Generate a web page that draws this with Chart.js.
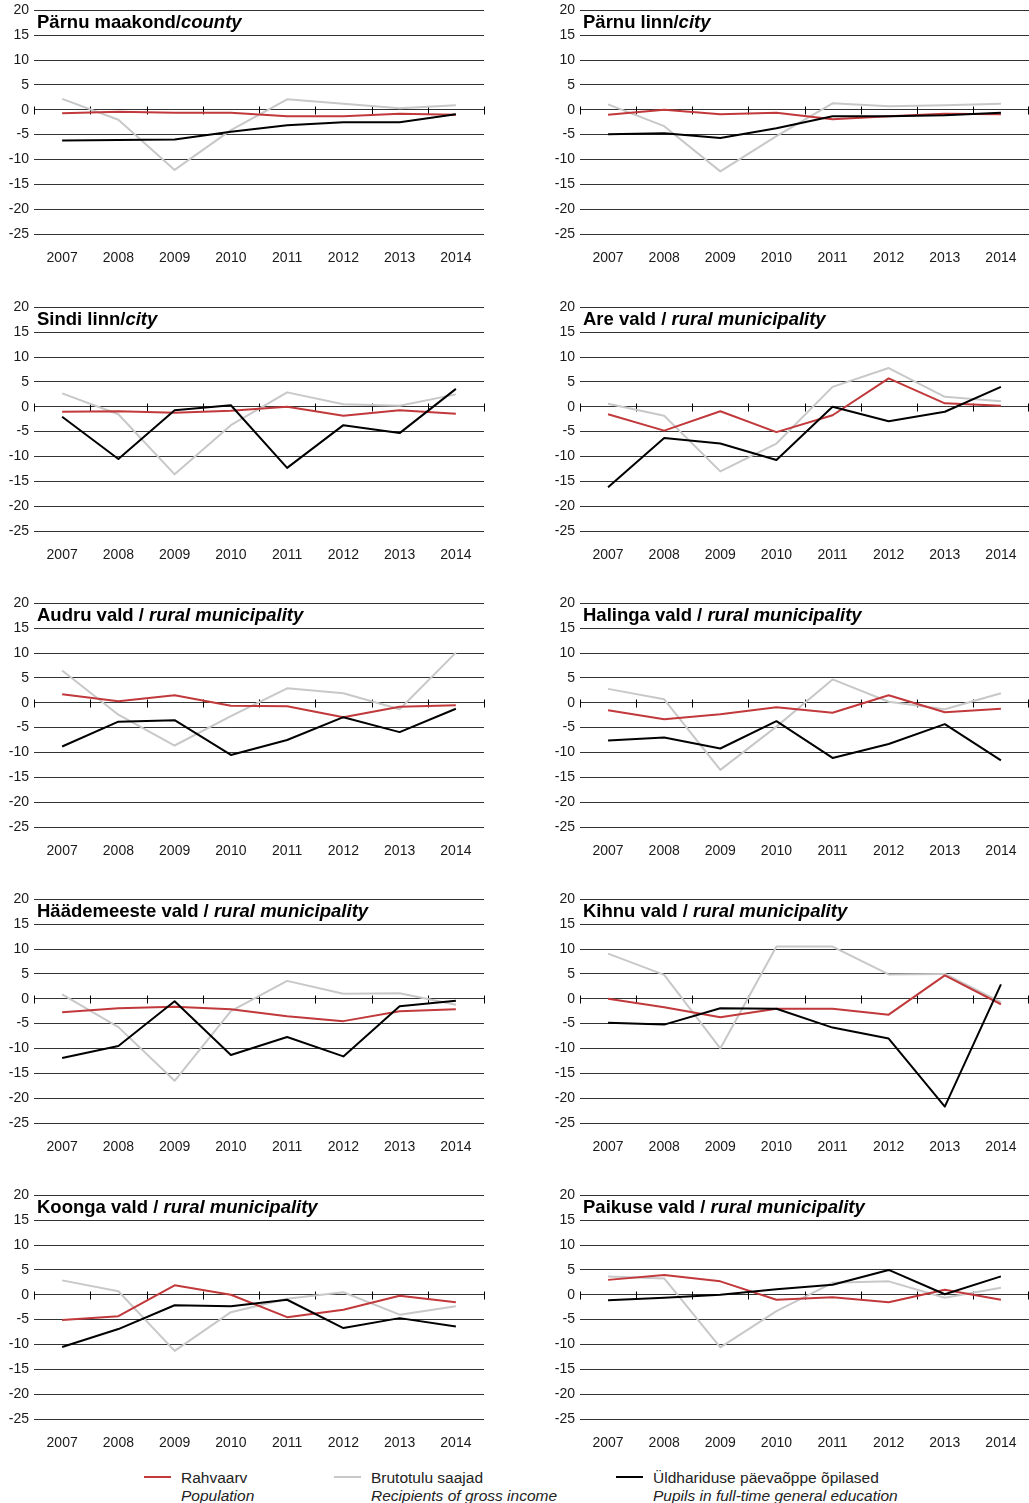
<!DOCTYPE html>
<html><head><meta charset="utf-8">
<script src="https://cdn.jsdelivr.net/npm/chart.js@4/dist/chart.umd.min.js"></script>
<style>
html,body{margin:0;padding:0;background:#fff;}
body{width:1029px;height:1503px;position:relative;overflow:hidden;font-family:"Liberation Sans",Arial,sans-serif;}
.panel{position:absolute;}
.panel canvas{display:block;}
.ttl{position:absolute;font-weight:bold;font-size:18.5px;line-height:20px;color:#000;white-space:nowrap;}
.ttl i{font-style:italic;}
.leg{position:absolute;top:1468.5px;font-size:15.5px;line-height:18px;color:#222;white-space:nowrap;}
.leg i{display:block;}
.mk{position:absolute;height:2px;width:27px;top:1476px;}
</style></head><body>
<div id="root"></div>
<div class="mk" style="left:144px;background:#c1393b"></div>
<div class="leg" style="left:181px">Rahvaarv<i>Population</i></div>
<div class="mk" style="left:334px;background:#c8c8c8"></div>
<div class="leg" style="left:371px">Brutotulu saajad<i>Recipients of gross income</i></div>
<div class="mk" style="left:616px;background:#000"></div>
<div class="leg" style="left:653px">Üldhariduse päevaõppe õpilased<i>Pupils in full-time general education</i></div>
<script>
// ---- categories ----
const years = ['2007','2008','2009','2010','2011','2012','2013','2014'];
const yTickValues = [20, 15, 10, 5, 0, -5, -10, -15, -20, -25];

// ---- series names ----
const seriesPopulation = 'Rahvaarv / Population';
const seriesIncome = 'Brutotulu saajad / Recipients of gross income';
const seriesPupils = 'Üldhariduse päevaõppe õpilased / Pupils in full-time general education';

// ---- Pärnu maakond ----
const popParnuMaakond = [-0.7, -0.4, -0.6, -0.6, -1.3, -1.3, -0.8, -1.0];
const incParnuMaakond = [2.2, -2.0, -12.1, -4.1, 2.1, 1.2, 0.3, 0.9];
const pupParnuMaakond = [-6.2, -6.1, -6.0, -4.4, -3.1, -2.5, -2.5, -0.9];
// ---- Pärnu linn ----
const popParnuLinn = [-1.0, 0.0, -0.9, -0.6, -1.9, -1.3, -0.8, -0.9];
const incParnuLinn = [1.1, -3.3, -12.4, -5.3, 1.3, 0.7, 0.9, 1.2];
const pupParnuLinn = [-4.9, -4.7, -5.7, -3.7, -1.3, -1.3, -1.1, -0.6];
// ---- Sindi linn ----
const popSindi = [-1.0, -0.9, -1.2, -0.8, 0.0, -1.8, -0.7, -1.4];
const incSindi = [2.7, -1.5, -13.6, -3.7, 2.9, 0.5, 0.2, 2.5];
const pupSindi = [-2.0, -10.5, -0.7, 0.3, -12.3, -3.7, -5.3, 3.6];
// ---- Are vald ----
const popAre = [-1.5, -4.8, -0.9, -5.1, -1.7, 5.7, 0.7, 0.2];
const incAre = [0.6, -1.8, -13.0, -7.4, 4.0, 7.8, 2.0, 1.1];
const pupAre = [-16.2, -6.3, -7.4, -10.7, 0.0, -2.9, -1.0, 4.0];
// ---- Audru vald ----
const popAudru = [1.7, 0.3, 1.5, -0.6, -0.7, -2.9, -0.8, -0.5];
const incAudru = [6.5, -2.4, -8.6, -2.7, 2.9, 1.9, -1.3, 10.1];
const pupAudru = [-8.8, -3.8, -3.5, -10.5, -7.5, -2.9, -5.9, -1.2];
// ---- Halinga vald ----
const popHalinga = [-1.5, -3.3, -2.3, -0.9, -2.0, 1.5, -1.9, -1.2];
const incHalinga = [2.8, 0.7, -13.5, -4.8, 4.7, 0.2, -1.3, 1.9];
const pupHalinga = [-7.6, -7.0, -9.2, -3.7, -11.1, -8.3, -4.3, -11.6];
// ---- Häädemeeste vald ----
const popHaademeeste = [-2.7, -1.9, -1.6, -2.1, -3.5, -4.5, -2.5, -2.1];
const incHaademeeste = [0.9, -5.7, -16.5, -2.5, 3.6, 1.0, 1.1, -1.2];
const pupHaademeeste = [-11.9, -9.5, -0.5, -11.3, -7.7, -11.6, -1.5, -0.4];
// ---- Kihnu vald ----
const popKihnu = [0.0, -1.7, -3.7, -2.0, -2.0, -3.2, 4.7, -1.1];
const incKihnu = [9.1, 4.8, -10.0, 10.5, 10.5, 4.9, 5.0, -0.7];
const pupKihnu = [-4.8, -5.2, -1.9, -2.0, -5.8, -8.0, -21.7, 2.9];
// ---- Koonga vald ----
const popKoonga = [-5.1, -4.3, 1.9, 0.0, -4.5, -3.0, -0.2, -1.5];
const incKoonga = [2.9, 0.7, -11.3, -3.5, -0.8, 0.5, -4.0, -2.3];
const pupKoonga = [-10.5, -6.9, -2.1, -2.3, -1.0, -6.7, -4.7, -6.4];
// ---- Paikuse vald ----
const popPaikuse = [3.0, 4.0, 2.7, -1.0, -0.5, -1.5, 1.0, -1.0];
const incPaikuse = [3.7, 3.3, -10.6, -3.3, 2.4, 2.7, -0.6, 1.4];
const pupPaikuse = [-1.1, -0.6, 0.0, 1.1, 2.0, 5.0, 0.1, 3.7];

// ---- panel titles ----
const titleMain = ['Pärnu maakond/', 'Pärnu linn/', 'Sindi linn/', 'Are vald / ', 'Audru vald / ',
  'Halinga vald / ', 'Häädemeeste vald / ', 'Kihnu vald / ', 'Koonga vald / ', 'Paikuse vald / '];
const titleItalic = ['county', 'city', 'city', 'rural municipality', 'rural municipality',
  'rural municipality', 'rural municipality', 'rural municipality', 'rural municipality', 'rural municipality'];

const popSeries = [popParnuMaakond, popParnuLinn, popSindi, popAre, popAudru, popHalinga, popHaademeeste, popKihnu, popKoonga, popPaikuse];
const incSeries = [incParnuMaakond, incParnuLinn, incSindi, incAre, incAudru, incHalinga, incHaademeeste, incKihnu, incKoonga, incPaikuse];
const pupSeries = [pupParnuMaakond, pupParnuLinn, pupSindi, pupAre, pupAudru, pupHalinga, pupHaademeeste, pupKihnu, pupKoonga, pupPaikuse];

// ---- layout ----
const rowTops = [9, 306, 602, 898, 1194];
const cols = [{x: 0, w: 490, axisW: 34, padR: 6}, {x: 540, w: 489, axisW: 40, padR: 0}];
const PAD_TOP = 12, CANVAS_H = 277;
const RED = '#c1393b', GRAY = '#c8c8c8', BLACK = '#000000';
const TICK_COLOR = '#1a1a1a';

const zeroTicks = {
  id: 'zeroTicks',
  beforeDatasetsDraw(chart) {
    const xs = chart.scales.x, ys = chart.scales.y, ctx = chart.ctx;
    const y0 = Math.round(ys.getPixelForValue(0)) + 0.5;
    ctx.save();
    ctx.strokeStyle = '#000';
    ctx.lineWidth = 1;
    ctx.beginPath();
    for (let i = 0; i <= years.length; i++) {
      let px = Math.round(xs.getPixelForValue(i - 0.5)) + 0.5;
      px = Math.min(px, chart.width - 0.5);
      ctx.moveTo(px, y0 - 4);
      ctx.lineTo(px, y0 + 4);
    }
    ctx.stroke();
    ctx.restore();
  }
};

const root = document.getElementById('root');
for (let p = 0; p < 10; p++) {
  const col = cols[p % 2];
  const rowTop = rowTops[Math.floor(p / 2)];
  const div = document.createElement('div');
  div.className = 'panel';
  div.style.left = col.x + 'px';
  div.style.top = (rowTop - PAD_TOP) + 'px';
  div.style.width = col.w + 'px';
  div.style.height = CANVAS_H + 'px';
  const cv = document.createElement('canvas');
  cv.width = col.w; cv.height = CANVAS_H;
  cv.style.width = col.w + 'px'; cv.style.height = CANVAS_H + 'px';
  div.appendChild(cv);
  const t = document.createElement('div');
  t.className = 'ttl';
  t.style.left = (col.axisW + 3) + 'px';
  t.style.top = (PAD_TOP + 2.6) + 'px';
  t.innerHTML = titleMain[p] + '<i>' + titleItalic[p] + '</i>';
  div.appendChild(t);
  root.appendChild(div);

  new Chart(cv.getContext('2d'), {
    type: 'line',
    data: {
      labels: years,
      datasets: [
        {label: seriesIncome, data: incSeries[p], borderColor: GRAY, order: 3},
        {label: seriesPopulation, data: popSeries[p], borderColor: RED, order: 2},
        {label: seriesPupils, data: pupSeries[p], borderColor: BLACK, order: 1}
      ].map(d => Object.assign(d, {borderWidth: 2, pointRadius: 0, tension: 0, fill: false, borderJoinStyle: 'round'}))
    },
    options: {
      responsive: false,
      animation: false,
      devicePixelRatio: 1,
      layout: {padding: {top: PAD_TOP, right: col.padR, bottom: 0, left: 0}},
      plugins: {legend: {display: false}, tooltip: {enabled: false}, title: {display: false}},
      scales: {
        x: {
          offset: true,
          grid: {display: false, drawTicks: false},
          border: {display: false},
          ticks: {padding: 16, color: TICK_COLOR, font: {family: '"Liberation Sans", Arial, sans-serif', size: 14}, autoSkip: false, maxRotation: 0},
          afterFit(s) { s.height = 40; s.paddingLeft = 0; s.paddingRight = 0; }
        },
        y: {
          min: -25, max: 20,
          afterBuildTicks(s) { s.ticks = yTickValues.map(v => ({value: v})); },
          grid: {color: '#333333', lineWidth: 1, drawTicks: false},
          border: {display: false},
          ticks: {padding: 5, color: TICK_COLOR, font: {family: '"Liberation Sans", Arial, sans-serif', size: 14}, callback: v => String(v)},
          afterFit(s) { s.width = col.axisW; }
        }
      }
    },
    plugins: [zeroTicks]
  });
}
</script>
</body></html>
